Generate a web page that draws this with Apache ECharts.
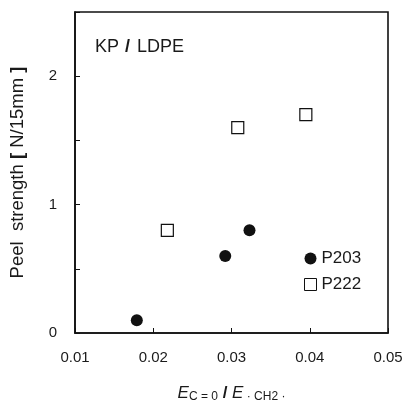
<!DOCTYPE html>
<html><head><meta charset="utf-8">
<script src="https://cdn.jsdelivr.net/npm/echarts@6/dist/echarts.min.js"></script>
<style>html,body{margin:0;padding:0;background:#fff}#c{width:404px;height:404px}</style>
</head><body><div id="c"></div>
<script>
const xTicks = [0.01, 0.02, 0.03, 0.04, 0.05];
const yTickLabels = {0: '0', 1: '1', 2: '2'};
const p203 = [[0.0179, 0.1], [0.0292, 0.6], [0.0323, 0.8]];
const p222 = [[0.0218, 0.8], [0.0308, 1.6], [0.0395, 1.7]];
const seriesNames = ['P203', 'P222'];

const FONT = 'Liberation Sans, Arial, sans-serif';
const TXT = '#1a1a1a';
const chart = echarts.init(document.getElementById('c'), null, {renderer: 'canvas'});
chart.setOption({
  animation: false,
  backgroundColor: '#fff',
  title: {
    text: '{a|KP }{b|/}{a| LDPE}',
    left: 90, top: 33,
    textStyle: {fontWeight: 'normal', rich: {
      a: {fontFamily: FONT, fontSize: 18, fontWeight: 'normal', color: TXT},
      b: {fontFamily: FONT, fontSize: 18, fontWeight: 'bold', color: TXT, padding: [0, 2, 0, 1]}
    }}
  },
  legend: {
    orient: 'vertical', left: 299, top: 245,
    itemWidth: 12, itemHeight: 12, itemGap: 9,
    textStyle: {fontFamily: FONT, fontSize: 17, color: TXT},
    data: [
      {name: seriesNames[0], icon: 'circle'},
      {name: seriesNames[1], icon: 'rect', itemStyle: {borderWidth: 1, color: '#fff', borderColor: '#111'}}
    ]
  },
  grid: {left: 75, right: 16, top: 12, bottom: 71, outerBoundsMode: 'none', containLabel: false,
    show: true, borderColor: '#111', borderWidth: 1.6},
  xAxis: {
    type: 'value', min: xTicks[0], max: xTicks[xTicks.length - 1], interval: 0.01,
    axisLine: {show: true, lineStyle: {color: '#111', width: 1.6}},
    axisTick: {show: true, inside: true, length: 5, lineStyle: {color: '#111'}},
    splitLine: {show: false},
    axisLabel: {fontFamily: FONT, fontSize: 15, color: TXT, margin: 17,
      formatter: v => v.toFixed(2)},
    name: '{i|E}{s|C = 0}{b| / }{i|E}{s| · CH2 ·}',
    nameLocation: 'middle', nameGap: 50,
    nameTextStyle: {rich: {
      i: {fontFamily: FONT, fontSize: 17, fontStyle: 'italic', color: TXT},
      s: {fontFamily: FONT, fontSize: 12, color: TXT, padding: [8, 0, 0, 0]},
      b: {fontFamily: FONT, fontSize: 17, fontWeight: 'bold', color: TXT}
    }}
  },
  yAxis: {
    type: 'value', min: 0, max: 2.5, interval: 0.5,
    axisLine: {show: true, lineStyle: {color: '#111', width: 1.6}},
    axisTick: {show: true, inside: true, length: 5, lineStyle: {color: '#111'}},
    splitLine: {show: false},
    axisLabel: {fontFamily: FONT, fontSize: 15, color: TXT, margin: 18,
      formatter: v => (yTickLabels[v] !== undefined ? yTickLabels[v] : '')},
    name: '{a|Peel  strength }{b|[}{a| N/15mm }{b|]}',
    nameLocation: 'middle', nameGap: 48,
    nameTextStyle: {rich: {
      a: {fontFamily: FONT, fontSize: 18.5, color: TXT},
      b: {fontFamily: FONT, fontSize: 18.5, fontWeight: 'bold', color: TXT}
    }}
  },
  series: [
    {name: seriesNames[0], type: 'scatter', data: p203, symbol: 'circle', symbolSize: 12,
      itemStyle: {color: '#111', opacity: 1}},
    {name: seriesNames[1], type: 'scatter', data: p222, symbol: 'rect', symbolSize: 12,
      itemStyle: {color: '#fff', borderColor: '#111', borderWidth: 1.2, opacity: 1}}
  ]
});
</script></body></html>
